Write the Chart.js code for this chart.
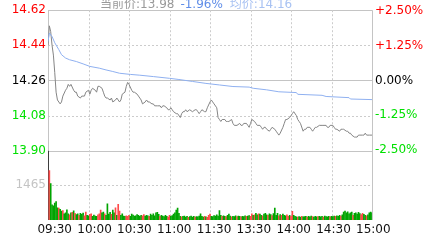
<!DOCTYPE html>
<html><head><meta charset="utf-8">
<script src="https://cdn.jsdelivr.net/npm/chart.js@4"></script>
<style>
html,body{margin:0;padding:0;background:#fff;}
#wrap{position:relative;width:439px;height:242px;overflow:hidden;}
#title{position:absolute;left:100px;top:-2px;font:12px/12px "DejaVu Sans","Noto Sans CJK SC",sans-serif;white-space:nowrap;}
</style></head><body>
<div id="wrap">
<canvas id="c" width="439" height="242"></canvas>
<div id="title"><span style="color:#999999">当前价:13.98</span><span style="color:#5f8de8;margin-left:6px">-1.96%</span><span style="color:#a8c2f2;margin-left:7px">均价:14.16</span></div>
</div>
<script>
const tickLabels = ['09:30','10:00','10:30','11:00','11:30','13:30','14:00','14:30','15:00'];
const tickMinutes = [0,30,60,90,120,150,180,210,240];
const prevClose = 14.26;
const priceTicks = [14.62,14.44,14.26,14.08,13.90];
const pctTicks = [2.5,1.25,0,-1.25,-2.5];
const volTicks = [1465];
const volMax = 2930;

const priceMinutes = [
0,1,2,3,4,5,6,7,9,10,
11,13,14,15,16,17,19,20,21,22,
24,25,27,28,30,31,32,33,35,36,
37,38,40,41,42,43,44,46,47,48,
50,51,52,53,54,55,57,58,59,60,
62,63,64,66,67,68,69,70,72,73,
74,75,77,78,79,80,81,83,84,85,
86,88,89,90,91,92,93,95,96,98,
99,100,101,102,103,105,107,109,110,111,
112,113,114,116,117,118,120,121,122,123,
125,126,127,128,129,131,132,133,134,136,
137,138,140,142,143,144,145,147,148,149,
150,151,153,154,155,157,158,159,160,161,
162,164,165,166,168,169,170,171,172,174,
175,176,177,179,180,181,182,184,185,186,
187,189,190,191,192,194,195,196,197,198,
199,201,203,206,207,208,209,211,212,213,
214,216,217,218,219,221,222,223,224,225,
227,228,229,230,231,233,234,235,236,238,
240];
const prices = [
14.44,14.54,14.51,14.44,14.39,14.30,14.20,14.16,14.14,14.15,
14.18,14.21,14.22,14.24,14.23,14.24,14.21,14.20,14.20,14.18,
14.17,14.18,14.18,14.20,14.21,14.19,14.21,14.22,14.21,14.20,
14.23,14.23,14.22,14.20,14.18,14.17,14.17,14.16,14.17,14.15,
14.16,14.17,14.16,14.15,14.16,14.19,14.20,14.23,14.25,14.24,
14.21,14.20,14.20,14.19,14.18,14.17,14.16,14.14,14.15,14.16,
14.15,14.15,14.14,14.14,14.13,14.13,14.13,14.13,14.12,14.13,
14.13,14.12,14.11,14.11,14.12,14.11,14.10,14.09,14.09,14.07,
14.09,14.10,14.10,14.11,14.10,14.11,14.10,14.11,14.11,14.10,
14.09,14.10,14.11,14.10,14.10,14.12,14.15,14.16,14.15,14.14,
14.12,14.07,14.06,14.05,14.06,14.06,14.05,14.05,14.05,14.06,
14.04,14.03,14.03,14.04,14.03,14.03,14.04,14.04,14.03,14.02,
14.04,14.06,14.05,14.04,14.03,14.03,14.02,14.01,14.02,14.02,
14.01,14.00,14.01,14.02,14.01,14.00,13.99,13.98,13.99,14.02,
14.04,14.06,14.06,14.07,14.08,14.09,14.10,14.08,14.06,14.05,
14.04,14.00,14.01,14.01,14.02,14.02,14.01,14.00,14.01,14.02,
14.02,14.03,14.03,14.03,14.02,14.02,14.03,14.03,14.02,14.01,
14.01,14.00,14.01,14.01,14.01,14.00,14.00,13.99,13.99,13.98,
13.97,13.97,13.97,13.98,13.98,13.98,13.98,13.99,13.98,13.98,
13.98];

const avgMinutes = [0,1,3,5,8,10,13,16,21,26,31,38,43,48,53,61,68,78,90,97,107,117,127,137,149,152,162,171,184,185,203,206,223,224,240];
const avgPrices = [14.459,14.503,14.485,14.453,14.418,14.392,14.375,14.366,14.357,14.345,14.332,14.323,14.314,14.306,14.297,14.291,14.287,14.280,14.271,14.265,14.255,14.245,14.237,14.229,14.226,14.220,14.212,14.202,14.198,14.189,14.184,14.178,14.172,14.165,14.162];

const volumes = [
2930,2090,1540,640,600,720,780,520,500,450,
380,400,260,300,430,260,220,300,320,390,
280,230,260,200,280,240,290,180,330,200,
180,240,260,150,210,170,150,220,260,420,
300,330,260,200,680,250,320,240,420,300,
520,200,660,380,200,260,170,150,180,150,
200,160,250,210,170,180,230,200,160,200,
180,230,170,200,180,150,250,200,260,180,
300,320,240,160,200,170,140,200,150,120,
200,160,190,250,300,420,500,280,160,130,
150,170,120,150,110,140,170,120,150,120,
140,130,170,260,150,120,150,130,110,200,
250,160,140,190,170,220,170,400,200,150,
180,160,140,200,250,170,130,160,140,180,
140,170,150,130,160,140,180,150,170,190,
160,260,200,220,280,220,260,250,200,180,
250,280,220,200,260,230,190,270,500,200,
280,180,230,200,250,200,180,220,160,200,
160,370,200,150,130,120,140,120,150,130,
140,160,120,150,130,170,140,120,150,130,
140,160,130,150,120,170,140,130,150,130,
160,140,170,150,180,160,200,170,220,330,
380,300,350,260,300,330,200,280,300,250,
320,270,230,280,240,200,180,220,300,330,
300];
const volDirs = [
0,1,-1,-1,-1,-1,-1,-1,1,-1,
-1,1,-1,-1,-1,-1,1,-1,1,-1,
1,-1,-1,1,-1,-1,-1,1,1,-1,
-1,1,1,-1,-1,-1,-1,1,1,1,
-1,-1,1,-1,-1,-1,-1,1,-1,-1,
1,-1,1,1,-1,-1,-1,-1,1,1,
1,-1,-1,-1,-1,-1,-1,-1,-1,-1,
1,1,-1,-1,-1,1,-1,-1,-1,-1,
-1,-1,-1,1,-1,-1,-1,-1,-1,1,
1,-1,-1,-1,-1,-1,-1,-1,-1,1,
-1,-1,-1,-1,1,-1,-1,-1,-1,1,
-1,-1,-1,-1,-1,-1,1,-1,1,1,
1,-1,-1,-1,-1,-1,-1,-1,-1,1,
-1,-1,1,-1,-1,-1,1,-1,-1,-1,
1,-1,-1,1,-1,-1,-1,1,-1,-1,
1,1,-1,1,-1,-1,1,-1,-1,1,
-1,-1,-1,1,-1,-1,1,-1,-1,-1,
-1,1,-1,1,-1,-1,-1,1,1,-1,
1,1,-1,-1,-1,1,-1,-1,1,-1,
-1,-1,1,-1,-1,-1,1,-1,-1,-1,
1,-1,-1,-1,1,-1,-1,-1,-1,1,
-1,-1,-1,1,-1,-1,-1,1,-1,-1,
-1,-1,-1,-1,-1,-1,1,-1,-1,-1,
-1,-1,1,1,-1,-1,1,-1,-1,-1,
-1];

const RED = '#ff0000', GREEN = '#00e000', BLACK = '#000000';
const near = (a,b) => Math.abs(a-b) < 1e-6;

const gridPlugin = {
  id: 'gridLines',
  beforeDatasetsDraw(chart) {
    const {ctx, chartArea: a, scales} = chart;
    const sx = scales.x, sy = scales.y, sv = scales.yv;
    const px = v => Math.round(v) + 0.5;
    ctx.save();
    ctx.lineWidth = 1;
    const line = (x1,y1,x2,y2,color,dash) => {
      ctx.beginPath(); ctx.setLineDash(dash); ctx.strokeStyle = color;
      ctx.moveTo(x1,y1); ctx.lineTo(x2,y2); ctx.stroke();
    };
    priceTicks.forEach(v => {
      const yy = px(sy.getPixelForValue(v));
      const solid = near(v,priceTicks[0]) || near(v,prevClose) || near(v,priceTicks[priceTicks.length-1]);
      line(a.left, yy, a.right, yy, solid ? '#c4c4c4' : '#cccccc', solid ? [] : [2,2]);
    });
    volTicks.forEach(v => {
      const yy = px(sv.getPixelForValue(v));
      line(a.left, yy, a.right, yy, '#cccccc', [2,2]);
    });
    tickMinutes.forEach((m,i) => {
      const xx = px(sx.getPixelForValue(m));
      const edge = (i === 0 || i === tickMinutes.length-1);
      line(xx, a.top, xx, a.bottom, edge ? '#c4c4c4' : '#cccccc', edge ? [] : [2,2]);
    });
    ctx.restore();
  }
};

const fixW = w => (s => { s.width = w; });

new Chart(document.getElementById('c'), {
  type: 'line',
  data: {
    datasets: [
      {
        type: 'line', label: 'avg',
        data: avgMinutes.map((m,i) => ({x: m, y: avgPrices[i]})),
        borderColor: '#8fb0f0', borderWidth: 1, pointRadius: 0, tension: 0,
        xAxisID: 'x', yAxisID: 'y'
      },
      {
        type: 'line', label: 'price',
        data: priceMinutes.map((m,i) => ({x: m, y: prices[i]})),
        borderColor: '#858585', borderWidth: 1, pointRadius: 0, tension: 0,
        xAxisID: 'x', yAxisID: 'y'
      },
      {
        type: 'bar', label: 'volume',
        data: volumes.map((v,i) => ({x: i, y: v})),
        backgroundColor: volDirs.map(d => d > 0 ? '#ff4a4a' : (d < 0 ? '#00a400' : '#222222')),
        barThickness: 1, grouped: false, borderWidth: 0,
        xAxisID: 'x', yAxisID: 'yv'
      }
    ]
  },
  options: {
    responsive: false, animation: false, devicePixelRatio: 1,
    layout: { padding: { top: 10, left: 0, right: 0, bottom: 0 } },
    plugins: { legend: { display: false }, tooltip: { enabled: false } },
    font: { family: '"DejaVu Sans", sans-serif', size: 12 },
    scales: {
      x: { type: 'linear', min: 0, max: 240, offset: false, display: false },
      x2: {
        type: 'linear', position: 'bottom', min: -5.05, max: 239.0, offset: false,
        afterBuildTicks: s => { s.ticks = tickMinutes.map(v => ({value: v})); },
        afterFit: s => { s.height = 22; },
        grid: { display: false, drawTicks: false }, border: { display: false },
        ticks: { autoSkip: false, maxRotation: 0, padding: 3, color: '#111111',
          font: { family: '"DejaVu Sans", sans-serif', size: 12 },
          callback: (v, i) => tickLabels[i] }
      },
      yv: {
        type: 'linear', position: 'left', stack: 'L', stackWeight: 69,
        min: 0, max: volMax,
        afterBuildTicks: s => { s.ticks = volTicks.map(v => ({value: v})); },
        afterFit: fixW(48),
        grid: { display: false, drawTicks: false }, border: { display: false },
        ticks: { autoSkip: false, padding: 2, color: '#c4c4c4',
          font: { family: '"DejaVu Sans", sans-serif', size: 12 },
          callback: v => String(v) }
      },
      y: {
        type: 'linear', position: 'left', stack: 'L', stackWeight: 140,
        min: priceTicks[priceTicks.length-1], max: priceTicks[0],
        afterBuildTicks: s => { s.ticks = priceTicks.map(v => ({value: v})); },
        afterFit: fixW(48),
        grid: { display: false, drawTicks: false }, border: { display: false },
        ticks: { autoSkip: false, padding: 2,
          font: { family: '"DejaVu Sans", sans-serif', size: 12 },
          color: c => near(c.tick.value, prevClose) ? BLACK : (c.tick.value > prevClose ? RED : GREEN),
          callback: v => Number(v).toFixed(2) }
      },
      yr: {
        type: 'linear', position: 'right', stack: 'R', stackWeight: 140,
        min: (priceTicks[priceTicks.length-1]/prevClose - 1) * 100,
        max: (priceTicks[0]/prevClose - 1) * 100,
        afterBuildTicks: s => { s.ticks = pctTicks.map(v => ({value: v})); },
        afterFit: fixW(67),
        grid: { display: false, drawTicks: false }, border: { display: false },
        ticks: { autoSkip: false, padding: 3,
          font: { family: '"DejaVu Sans", sans-serif', size: 12 },
          color: c => near(c.tick.value, 0) ? BLACK : (c.tick.value > 0 ? RED : GREEN),
          callback: v => (v > 0 ? '+' : '') + Number(v).toFixed(2) + '%' }
      },
      yvr: {
        type: 'linear', position: 'right', stack: 'R', stackWeight: 69,
        min: 0, max: volMax,
        afterFit: fixW(67),
        grid: { display: false, drawTicks: false }, border: { display: false },
        ticks: { display: false }
      }
    }
  },
  plugins: [gridPlugin]
});
</script>
</body></html>
